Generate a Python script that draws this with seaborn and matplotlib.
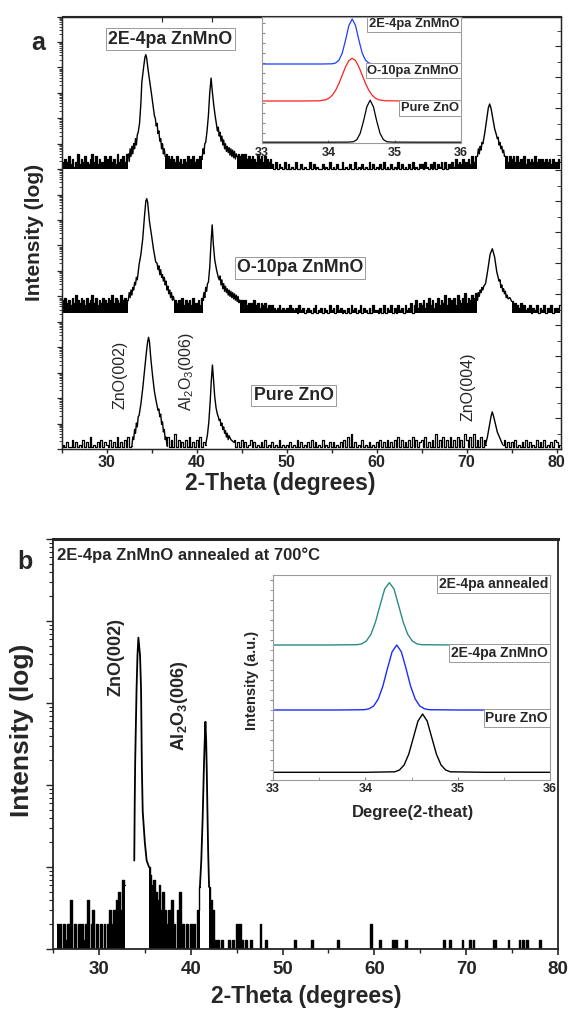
import numpy as np
import pandas as pd
import matplotlib
matplotlib.use("Agg")
import matplotlib.pyplot as plt
import seaborn as sns
from matplotlib.ticker import LogLocator, NullFormatter, MultipleLocator, FixedLocator

sns.set_style("ticks")
plt.rcParams["font.family"] = ["Liberation Sans", "DejaVu Sans"]
plt.rcParams["font.weight"] = "bold"
plt.rcParams["mathtext.fontset"] = "custom"
plt.rcParams["mathtext.rm"] = "Liberation Sans:regular"
plt.rcParams["mathtext.bf"] = "Liberation Sans:bold"

# ---------------- data : panel a (values in decades above each trace floor) -------------
STEP = 0.2  # noise strings: one char per 0.2 deg, each string covers 5 deg from 25,30,...
OFFSET_TOP, OFFSET_MID, OFFSET_BOT = 11.0, 5.35, 0.07

NOISE_TOP = [
    "3243524136243532463524335", "4253426345360000000000000", "0000000065454353424353453",
    "4350000000000000000000065", "6564545436453543420302103", "0201030020100302010020103",
    "0102003010200301020103020", "1020301020103020102030102", "2031020302130302131423243",
    "3425350000000000000000535", "4535343524343534243434243", "343",
]
NOISE_MID = [
    "5464536475465364574635465", "4657465475640000000000000", "0000000000000545463545364",
    "4536000000000000000000000", "5453443534243423232123121", "2132120312012102301202103",
    "1203120102031201302102031", "1020302130203120312403524", "3524635246354736456375468",
    "4657680000000000000000000", "0343242312302130213021302", "213",
]
NOISE_BOT = [
    "0102003020103020401020302", "1030204020304000000000000", "0000000004030503020304020",
    "3040200000000000000003020", "3020130201020301020103010", "1020103020102030201030102",
    "0201020304050201030102010", "2030203020304030203040302", "3040203050304030403040305",
    "3040503040300000000003020", "2030102030201030203010203", "201",
]

ZNO_TOP_X = [32.4, 32.5, 32.6, 32.7, 32.8, 32.9, 33.0, 33.1, 33.2, 33.3, 33.4, 33.5,
             33.65, 33.8, 33.9, 34.1, 34.25, 34.35, 34.45, 34.6, 34.8, 35.0, 35.15, 35.3,
             35.4, 35.5, 35.6, 35.7, 35.8, 35.9, 36.0, 36.1, 36.2, 36.3, 36.4, 36.5]
ZNO_TOP_Y = [0.6, 0.3, 0.8, 0.5, 0.9, 0.6, 1.0, 0.8, 1.2, 0.95, 1.35, 1.45,
             1.8, 2.6, 3.4, 4.0, 4.4, 4.5, 4.35, 3.9, 3.4, 2.9, 2.5, 2.1,
             2.0, 1.7, 1.8, 1.4, 1.5, 1.1, 1.2, 0.8, 1.0, 0.6, 0.8, 0.5]
AL_TOP_X = [40.6, 40.7, 40.8, 40.9, 41.0, 41.15, 41.3, 41.45, 41.6, 41.75, 41.9, 42.05, 42.2,
            42.3, 42.4, 42.5, 42.6, 42.7, 42.8, 42.9, 43.0, 43.1, 43.2, 43.3, 43.4, 43.5, 43.6,
            43.7, 43.8, 43.9, 44.0, 44.1, 44.2, 44.3, 44.4, 44.5]
AL_TOP_Y = [0.4, 0.8, 0.6, 1.0, 1.05, 1.5, 2.1, 3.0, 3.58, 3.0, 2.5, 2.1, 1.75,
            1.5, 1.65, 1.3, 1.45, 1.1, 1.3, 0.95, 1.15, 0.8, 1.0, 0.7, 0.9, 0.65, 0.85,
            0.55, 0.8, 0.5, 0.75, 0.45, 0.7, 0.4, 0.6, 0.5]
Z4_TOP_X = [71.2, 71.3, 71.4, 71.5, 71.6, 71.7, 71.8, 72.0, 72.2, 72.4, 72.55, 72.7, 72.9,
            73.1, 73.3, 73.4, 73.5, 73.6, 73.7, 73.8, 73.9, 74.0, 74.1, 74.2, 74.3]
Z4_TOP_Y = [0.5, 0.8, 0.6, 0.9, 0.75, 1.05, 1.0, 1.4, 1.9, 2.4, 2.56, 2.4, 2.0,
            1.6, 1.35, 1.2, 1.25, 0.95, 1.05, 0.8, 0.9, 0.65, 0.75, 0.5, 0.5]

ZNO_MID_X = [32.4, 32.5, 32.6, 32.7, 32.8, 32.9, 33.0, 33.1, 33.2, 33.3, 33.4, 33.5, 33.6,
             33.8, 34.0, 34.2, 34.35, 34.45, 34.55, 34.75, 35.0, 35.2, 35.45,
             35.6, 35.7, 35.8, 35.9, 36.0, 36.1, 36.2, 36.3, 36.4, 36.5, 36.6, 36.7, 36.8,
             36.9, 37.0, 37.1, 37.2, 37.3, 37.4, 37.5]
ZNO_MID_Y = [0.5, 0.8, 0.6, 0.9, 0.7, 1.0, 0.9, 1.2, 1.1, 1.4, 1.3, 1.6, 1.9,
             2.3, 2.9, 3.8, 4.4, 4.49, 4.35, 3.6, 3.0, 2.5, 2.0,
             1.95, 1.7, 1.85, 1.5, 1.7, 1.4, 1.5, 1.25, 1.4, 1.1, 1.25, 0.9, 1.05,
             0.75, 0.9, 0.6, 0.8, 0.5, 0.65, 0.5]
AL_MID_X = [40.7, 40.8, 40.9, 41.0, 41.1, 41.2, 41.3, 41.45, 41.6, 41.72, 41.85, 42.0, 42.2, 42.4,
            42.5, 42.6, 42.7, 42.8, 42.9, 43.0, 43.1, 43.2, 43.3, 43.4, 43.5, 43.6, 43.7, 43.8,
            43.9, 44.0, 44.1, 44.2, 44.3, 44.4, 44.5, 44.6, 44.7, 44.8]
AL_MID_Y = [0.5, 0.8, 0.6, 1.0, 0.85, 1.15, 1.2, 1.8, 2.8, 3.46, 2.7, 2.1, 1.7, 1.4,
            1.3, 1.45, 1.1, 1.3, 0.95, 1.15, 0.85, 1.05, 0.8, 0.95, 0.7, 0.9, 0.65, 0.85,
            0.6, 0.8, 0.55, 0.75, 0.5, 0.7, 0.45, 0.65, 0.4, 0.5]
Z4_MID_X = [71.2, 71.3, 71.4, 71.5, 71.6, 71.7, 71.8, 71.9, 72.1, 72.35, 72.6, 72.85, 73.1,
            73.35, 73.6, 73.7, 73.8, 73.9, 74.0, 74.1, 74.2, 74.3, 74.4, 74.5, 74.6, 74.8, 75.0]
Z4_MID_Y = [0.5, 0.8, 0.65, 0.9, 0.8, 1.0, 0.9, 1.05, 1.15, 1.7, 2.3, 2.52, 2.2,
            1.6, 1.25, 1.3, 1.0, 1.1, 0.85, 0.95, 0.75, 0.85, 0.6, 0.7, 0.55, 0.6, 0.45]

ZNO_BOT_X = [32.8, 32.9, 33.0, 33.1, 33.2, 33.3, 33.4, 33.5, 33.6,
             33.8, 34.0, 34.2, 34.4, 34.55, 34.65, 34.75, 34.9, 35.1, 35.3, 35.5, 35.7,
             35.8, 35.9, 36.0, 36.1, 36.2, 36.3, 36.4, 36.5, 36.6, 36.7]
ZNO_BOT_Y = [0.05, 0.4, 0.3, 0.7, 0.55, 0.95, 0.8, 1.2, 1.25,
             1.7, 2.3, 3.0, 3.7, 4.15, 4.32, 4.15, 3.5, 2.8, 2.2, 1.8, 1.45,
             1.5, 1.2, 1.3, 0.9, 1.0, 0.6, 0.7, 0.3, 0.4, 0.05]
AL_BOT_X = [41.0, 41.2, 41.35, 41.5, 41.62, 41.75, 41.88, 42.0, 42.15, 42.3, 42.4, 42.5, 42.6,
            42.7, 42.8, 42.9, 43.0, 43.1, 43.2, 43.3, 43.4, 43.5, 43.6, 43.8, 44.1]
AL_BOT_Y = [0.1, 0.5, 1.0, 1.8, 2.6, 3.23, 2.6, 2.0, 1.55, 1.3, 1.2, 1.05, 1.1,
            0.85, 0.95, 0.7, 0.8, 0.55, 0.65, 0.4, 0.55, 0.3, 0.45, 0.3, 0.2]
Z4_BOT_X = [72.1, 72.3, 72.5, 72.7, 72.84, 73.0, 73.2, 73.4, 73.7, 74.0]
Z4_BOT_Y = [0.1, 0.4, 0.8, 1.2, 1.39, 1.2, 0.9, 0.6, 0.35, 0.1]

# inset a (arbitrary units)
BLACK_A_X = [33.0, 34.0, 34.3, 34.38, 34.43, 34.48, 34.53, 34.58, 34.63, 34.68, 34.73, 34.78, 34.83, 34.88, 34.96, 35.4, 36.0]
BLACK_A_Y = [0.8, 0.8, 0.9, 1.3, 3.4, 9.6, 21.8, 36.1, 42.8, 36.1, 21.8, 9.6, 3.4, 1.3, 0.9, 0.8, 0.8]
RED_A_X = [33.0, 33.6, 33.86, 33.96, 34.01, 34.06, 34.11, 34.16, 34.21, 34.26, 34.31, 34.36, 34.41,
           34.46, 34.51, 34.56, 34.61, 34.66, 34.71, 34.76, 34.86, 35.2, 36.0]
RED_A_Y = [42, 42, 42.2, 43.2, 44.8, 47.8, 52.7, 59.6, 67.9, 76.2, 82.4, 84.7, 82.4,
           76.2, 67.9, 59.6, 52.7, 47.8, 44.8, 43.2, 42.2, 42, 42]
BLUE_A_X = [33.0, 33.6, 33.9, 34.06, 34.11, 34.16, 34.21, 34.26, 34.31, 34.36, 34.41, 34.46, 34.51,
            34.56, 34.61, 34.66, 34.8, 35.0, 35.28]
BLUE_A_Y = [79, 79, 79, 79.2, 80, 82.8, 90, 103, 117.5, 124, 117.5, 103, 90, 82.8, 80, 79.2, 79, 79, 79]

# ---------------- data : panel b (counts) ----------------
NOISE_B = [
    "..20202120402020212402302", "020202323245376..........", "...8675463532304203502020",
    "20203......43101010001010", "2021010010000200100000000", "0000000100000000100000000",
    "0000010000000000000000020", "0001000000101000010000000", "0000000000000100100000010",
    "0010100000000001100000010", "0000101010000001000000000", "0",
]
PEAK_B_ZNO_X = [33.85, 33.9, 33.95, 34.1, 34.2, 34.3, 34.48, 34.59, 34.68, 34.77, 35.0, 35.2, 35.46]
PEAK_B_ZNO_Y = [12, 60, 190, 1480, 3800, 6270, 3800, 1480, 160, 48, 20, 12, 10]
PEAK_B_AL_X = [41.0, 41.15, 41.3, 41.45, 41.55, 41.6, 41.68, 41.75, 41.82, 41.9, 42.0]
PEAK_B_AL_Y = [5.7, 12, 40, 190, 420, 590, 350, 146, 48, 15, 5.7]

TEAL_B_X = [33.0, 33.6, 33.91, 33.96, 34.01, 34.06, 34.11, 34.16, 34.21, 34.26, 34.31, 34.36, 34.41,
            34.46, 34.51, 34.56, 34.61, 35.0, 36.0]
TEAL_B_Y = [135, 135, 135.3, 136.1, 138.9, 145.5, 157.9, 174.8, 191.1, 197.3, 191.1, 174.8, 157.9,
            145.5, 138.9, 136.1, 135.3, 135, 135]
BLUE_B_X = [33.0, 33.7, 33.99, 34.04, 34.09, 34.14, 34.19, 34.24, 34.29, 34.34, 34.39, 34.44, 34.49,
            34.54, 34.59, 34.64, 34.69, 35.0, 36.0]
BLUE_B_Y = [70, 70, 70.3, 71.2, 74.0, 81.0, 93.9, 111.7, 128.2, 135, 128.2, 111.7, 93.9,
            81.0, 74.0, 71.2, 70.3, 70, 70]
BLACK_B_X = [33.0, 34.0, 34.32, 34.37, 34.42, 34.47, 34.52, 34.57, 34.62, 34.67, 34.72, 34.77, 34.82,
             34.87, 34.92, 35.3, 36.0]
BLACK_B_Y = [7.7, 7.7, 8.2, 10.0, 15.0, 25.8, 42.3, 58.9, 66.0, 58.9, 42.3, 25.8, 15.0, 10.0, 8.2, 7.7, 7.7]

INSET_TICKS = [33, 34, 35, 36]
LABELS_A = ["2E-4pa ZnMnO", "O-10pa ZnMnO", "Pure ZnO"]
LABELS_B = ["2E-4pa annealed", "2E-4pa ZnMnO", "Pure ZnO"]

# ---------------- helpers ----------------
W, H = 570, 1015
fig = plt.figure(figsize=(W / 100, H / 100), dpi=100)


def rect(l, t, r, b):
    return [l / W, 1 - b / H, (r - l) / W, (b - t) / H]


def ftext(x, y, s, **kw):
    return fig.text(x / W, 1 - y / H, s, **kw)


def decode(segs, value):
    xs, ys = [], []
    for k, s in enumerate(segs):
        for j, c in enumerate(s):
            xs.append(round(25.0 + 5.0 * k + STEP * j, 3))
            ys.append(np.nan if c == "." else value(c))
    return np.array(xs), np.array(ys, float)


def build(segs, value, peaks):
    nx, ny = decode(segs, value)
    inpk = np.zeros(nx.size, bool)
    for px, _ in peaks:
        inpk |= (nx >= px[0] - 1e-9) & (nx <= px[-1] + 1e-9)
    brk = np.isnan(ny) | inpk
    noise = pd.DataFrame({"x": nx, "y": ny, "seg": np.cumsum(brk)})[~brk]
    extra = []
    for px, py in peaks:
        before = noise[(noise.x < px[0]) & (noise.x > px[0] - 0.3)]
        if len(before):
            extra.append((px[0], py[0], before.seg.iloc[-1]))
        after = noise[(noise.x > px[-1]) & (noise.x < px[-1] + 0.3)]
        if len(after):
            extra.append((px[-1], py[-1], after.seg.iloc[0]))
    noise = pd.concat([noise, pd.DataFrame(extra, columns=["x", "y", "seg"])])
    noise = noise.sort_values(["seg", "x"]).reset_index(drop=True)
    pk = pd.concat([pd.DataFrame({"x": px, "y": py, "seg": k}) for k, (px, py) in enumerate(peaks)])
    return noise, pk.reset_index(drop=True)


box = dict(boxstyle="square,pad=0.12", fc="white", ec="#9a9a9a", lw=0.7)

# ================= panel a =================
ax = fig.add_axes(rect(61.7, 16.5, 561, 449))
ax.set_yscale("log")
traces = [
    (NOISE_TOP, [(ZNO_TOP_X, ZNO_TOP_Y), (AL_TOP_X, AL_TOP_Y), (Z4_TOP_X, Z4_TOP_Y)], OFFSET_TOP, True),
    (NOISE_MID, [(ZNO_MID_X, ZNO_MID_Y), (AL_MID_X, AL_MID_Y), (Z4_MID_X, Z4_MID_Y)], OFFSET_MID, True),
    (NOISE_BOT, [(ZNO_BOT_X, ZNO_BOT_Y), (AL_BOT_X, AL_BOT_Y), (Z4_BOT_X, Z4_BOT_Y)], OFFSET_BOT, False),
]
for segs, peaks, off, fill in traces:
    nz, pk = build(segs, lambda c: int(c) / 10.0, peaks)
    nz["I"] = 10.0 ** (off + nz["y"])
    pk["I"] = 10.0 ** (off + pk["y"])
    if fill:
        for _, g in nz.groupby("seg"):
            ax.fill_between(g["x"].values, 10.0 ** off, g["I"].values, step="mid",
                            color="black", lw=0)
    sns.lineplot(data=nz, x="x", y="I", units="seg", estimator=None, sort=False,
                 color="black", lw=0.9, drawstyle="steps-mid", ax=ax)
    sns.lineplot(data=pk, x="x", y="I", units="seg", estimator=None, sort=False,
                 color="black", lw=1.0, ax=ax)
ax.set_xlim(25, 80.48)
ax.set_ylim(1, 1e17)
ax.set_xlabel("")
ax.set_ylabel("")
ax.yaxis.set_major_locator(LogLocator(base=10, numticks=40))
ax.yaxis.set_minor_locator(LogLocator(base=10, subs=np.arange(2, 10), numticks=400))
ax.yaxis.set_major_formatter(NullFormatter())
ax.yaxis.set_minor_formatter(NullFormatter())
ax.xaxis.set_major_locator(MultipleLocator(10))
ax.xaxis.set_minor_locator(MultipleLocator(5))
ax.tick_params(axis="y", which="major", length=3.6, width=0.9, direction="out")
ax.tick_params(axis="y", which="minor", length=2.0, width=0.6, direction="out")
ax.tick_params(axis="x", which="major", length=3, width=1.0, labelsize=11.5, pad=1)
ax.tick_params(axis="x", which="minor", length=3, width=1.0)
for sp in ax.spines.values():
    sp.set_linewidth(1.0)
axt = ax.secondary_xaxis("top")
axt.xaxis.set_major_locator(FixedLocator([36.1, 41.7]))
axt.tick_params(direction="in", length=4, labeltop=False)
axr = ax.twinx()
axr.set_ylim(0, 432.5 / 15.5)
axr.yaxis.set_major_locator(MultipleLocator(2))
axr.yaxis.set_minor_locator(MultipleLocator(1))
axr.tick_params(axis="y", which="major", direction="in", length=4, labelright=False)
axr.tick_params(axis="y", which="minor", direction="in", length=3)

# inset a
ins = fig.add_axes(rect(262, 17, 461, 143))
for xs, ys, col in [(BLACK_A_X, BLACK_A_Y, "black"), (RED_A_X, RED_A_Y, "#ff2020"),
                    (BLUE_A_X, BLUE_A_Y, "#1f3cff")]:
    sns.lineplot(x=xs, y=ys, ax=ins, color=col, lw=0.9, estimator=None, sort=False)
ins.set_xlim(33, 36)
ins.set_ylim(0, 126)
ins.set_xticks(INSET_TICKS)
ins.set_xticklabels([str(t) for t in INSET_TICKS])
ins.yaxis.set_major_locator(MultipleLocator(10))
ins.yaxis.set_major_formatter(NullFormatter())
ins.tick_params(axis="x", direction="in", length=2.5, labelsize=9, pad=3, color="#888888")
ins.tick_params(axis="y", direction="in", length=2, color="#888888")
for sp in ins.spines.values():
    sp.set_color("#9a9a9a")
    sp.set_linewidth(0.8)
for lab, yy in zip(LABELS_A, [24.5, 70.5, 108]):
    ftext(459, yy, lab, fontsize=9.3, ha="right", va="center", bbox=box)

ftext(38, 43, "a", fontsize=18, ha="center", va="center")
ftext(170.5, 39, "2E-4pa ZnMnO", fontsize=12.8, ha="center", va="center", bbox=box)
ftext(300, 268, "O-10pa ZnMnO", fontsize=12.8, ha="center", va="center", bbox=box)
ftext(293.5, 395.5, "Pure ZnO", fontsize=12.8, ha="center", va="center", bbox=box)
ftext(120, 375, "ZnO(002)", fontsize=11.5, rotation=90, ha="center", va="center", fontweight="normal")
ftext(186, 372, r"Al$_2$O$_3$(006)", fontsize=11.5, rotation=90, ha="center", va="center", fontweight="normal")
ftext(468, 387, "ZnO(004)", fontsize=11.5, rotation=90, ha="center", va="center", fontweight="normal")
ftext(35, 232, "Intensity (log)", fontsize=15, rotation=90, ha="center", va="center")
ftext(280.5, 483, "2-Theta (degrees)", fontsize=16.5, ha="center", va="center")

# ================= panel b =================
axb = fig.add_axes(rect(53, 539, 558, 949))
axb.set_yscale("log")
nzb, pkb = build(NOISE_B, lambda c: {0: 1.0, 1: 1.3}.get(int(c), float(int(c))),
                 [(PEAK_B_ZNO_X, PEAK_B_ZNO_Y), (PEAK_B_AL_X, PEAK_B_AL_Y)])
for _, g in nzb.groupby("seg"):
    axb.fill_between(g["x"].values, 1.0, g["y"].values, step="mid", color="black", lw=0)
sns.lineplot(data=nzb, x="x", y="y", units="seg", estimator=None, sort=False,
             color="black", lw=1.0, drawstyle="steps-mid", ax=axb)
sns.lineplot(data=pkb, x="x", y="y", units="seg", estimator=None, sort=False,
             color="black", lw=1.3, ax=axb)
axb.set_xlim(25, 80)
axb.set_ylim(1, 1e5)
axb.set_xlabel("")
axb.set_ylabel("")
axb.yaxis.set_major_locator(LogLocator(base=10, numticks=20))
axb.yaxis.set_minor_locator(LogLocator(base=10, subs=np.arange(2, 10), numticks=200))
axb.yaxis.set_major_formatter(NullFormatter())
axb.yaxis.set_minor_formatter(NullFormatter())
axb.xaxis.set_major_locator(MultipleLocator(10))
axb.xaxis.set_minor_locator(MultipleLocator(5))
axb.tick_params(axis="y", which="major", length=4.8, width=1.0, direction="out")
axb.tick_params(axis="y", which="minor", length=2.9, width=0.8, direction="out")
axb.tick_params(axis="x", which="major", length=4, width=1.2, labelsize=13.5, pad=5)
axb.tick_params(axis="x", which="minor", length=3, width=1.0)
for sp in axb.spines.values():
    sp.set_linewidth(1.3)
axb.spines["top"].set_linewidth(2.2)

insb = fig.add_axes(rect(273, 575, 550, 780))
for xs, ys, col in [(BLACK_B_X, BLACK_B_Y, "black"), (BLUE_B_X, BLUE_B_Y, "#1a2cff"),
                    (TEAL_B_X, TEAL_B_Y, "#2a8c86")]:
    sns.lineplot(x=xs, y=ys, ax=insb, color=col, lw=1.0, estimator=None, sort=False)
insb.set_xlim(33, 36)
insb.set_ylim(0, 205)
insb.set_xticks(INSET_TICKS)
insb.set_xticklabels([str(t) for t in INSET_TICKS])
insb.xaxis.set_minor_locator(MultipleLocator(0.5))
insb.yaxis.set_major_locator(MultipleLocator(20))
insb.yaxis.set_minor_locator(MultipleLocator(10))
insb.yaxis.set_major_formatter(NullFormatter())
insb.tick_params(axis="x", which="both", direction="in", length=2.5, labelsize=9, pad=2.5, color="#888888")
insb.tick_params(axis="y", which="both", direction="out", length=2, color="#888888")
for sp in insb.spines.values():
    sp.set_color("#9a9a9a")
    sp.set_linewidth(0.8)
for lab, yy in zip(LABELS_B, [584, 653, 718]):
    ftext(548, yy, lab, fontsize=10, ha="right", va="center", bbox=box)
ftext(252, 680, "Intensity (a.u.)", fontsize=10.5, rotation=90, ha="center", va="center")
ftext(413, 812, "Degree(2-theat)", fontsize=12, ha="center", va="center")

ftext(25, 562, "b", fontsize=18, ha="center", va="center")
ftext(57, 555, "2E-4pa ZnMnO annealed at 700°C", fontsize=12, ha="left", va="center")
ftext(116, 657, "ZnO(002)", fontsize=13, rotation=90, ha="center", va="center")
ftext(180, 706, r"Al$_\mathbf{2}$O$_\mathbf{3}$(006)", fontsize=13, rotation=90, ha="center", va="center")
ftext(22, 730, "Intensity (log)", fontsize=19, rotation=90, ha="center", va="center")
ftext(306, 996, "2-Theta (degrees)", fontsize=16.5, ha="center", va="center")

fig.savefig("out.png", dpi=100, facecolor="white")
